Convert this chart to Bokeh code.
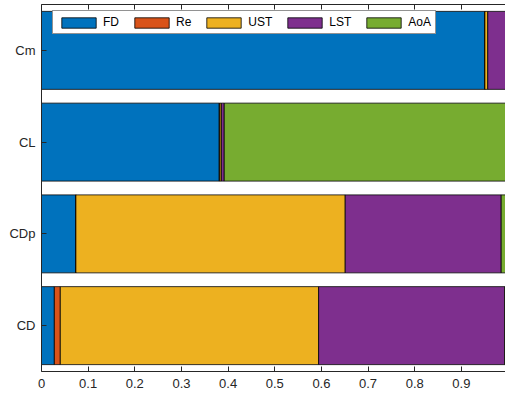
from bokeh.plotting import figure
from bokeh.models import ColumnDataSource, FactorRange, Range1d, LinearAxis, FixedTicker, Legend
from bokeh.embed import file_html
from bokeh.resources import INLINE

categories = ["CD", "CDp", "CL", "Cm"]
series = ["FD", "Re", "UST", "LST", "AoA"]
FD = [0.0275, 0.0734, 0.381, 0.950]
Re = [0.0128, 0.0003, 0.0012, 0.0004]
UST = [0.5537, 0.5773, 0.0033, 0.0062]
LST = [0.3990, 0.3344, 0.0062, 0.0434]
AoA = [0.0070, 0.0146, 0.6083, 0.0000]
colors = ["#0072BD", "#D95319", "#EDB120", "#7E2F8E", "#77AC30"]
x_ticks = [0, 0.1, 0.2, 0.3, 0.4, 0.5, 0.6, 0.7, 0.8, 0.9, 1.0]
x_tick_labels = ["0", "0.1", "0.2", "0.3", "0.4", "0.5", "0.6", "0.7", "0.8", "0.9", "1"]

source = ColumnDataSource(dict(cat=categories, FD=FD, Re=Re, UST=UST, LST=LST, AoA=AoA))

FONT = "Liberation Sans"
AX = "#262626"

p = figure(width=505, height=399, output_backend="svg", toolbar_location=None,
           y_range=FactorRange(factors=categories, range_padding=0),
           x_range=Range1d(0, 0.9946),
           min_border_left=41, min_border_right=0, min_border_top=4, min_border_bottom=28)
p.outline_line_color = None
p.grid.visible = False
p.background_fill_color = "white"
p.border_fill_color = "white"

renderers = p.hbar_stack(series, y="cat", height=0.85, color=colors, source=source,
                         line_color="black", line_width=0.8)

xa = p.xaxis[0]
xa.ticker = FixedTicker(ticks=x_ticks)
xa.major_label_overrides = {t: l for t, l in zip(x_ticks, x_tick_labels)}
xa.major_tick_in = 5
xa.major_tick_out = 0
xa.minor_tick_line_color = None
xa.axis_line_color = AX
xa.major_tick_line_color = AX
xa.major_label_text_font = FONT
xa.major_label_text_font_size = "13px"
xa.major_label_text_color = AX
xa.major_label_standoff = 7

ya = p.yaxis[0]
ya.major_tick_in = 5
ya.major_tick_out = 0
ya.axis_line_color = AX
ya.major_tick_line_color = AX
ya.major_label_text_font = FONT
ya.major_label_text_font_size = "13px"
ya.major_label_text_color = AX
ya.major_label_standoff = 6

top = LinearAxis(ticker=FixedTicker(ticks=x_ticks),
                 major_label_overrides={t: "" for t in x_ticks},
                 major_tick_in=5, major_tick_out=0, minor_tick_line_color=None,
                 axis_line_color=AX, major_tick_line_color=AX, major_label_standoff=0)
p.add_layout(top, "above")

legend = Legend(items=[(s, [r]) for s, r in zip(series, renderers)],
                orientation="horizontal", location=(11, 337),
                glyph_width=43, glyph_height=13, label_height=13, label_width=0,
                label_standoff=3, spacing=11, padding=4, margin=0,
                label_text_font=FONT, label_text_font_size="12px", label_text_color="black",
                border_line_color=AX, border_line_width=1, background_fill_alpha=1)
p.add_layout(legend, "center")

open("out.html", "w").write(file_html(p, INLINE))
